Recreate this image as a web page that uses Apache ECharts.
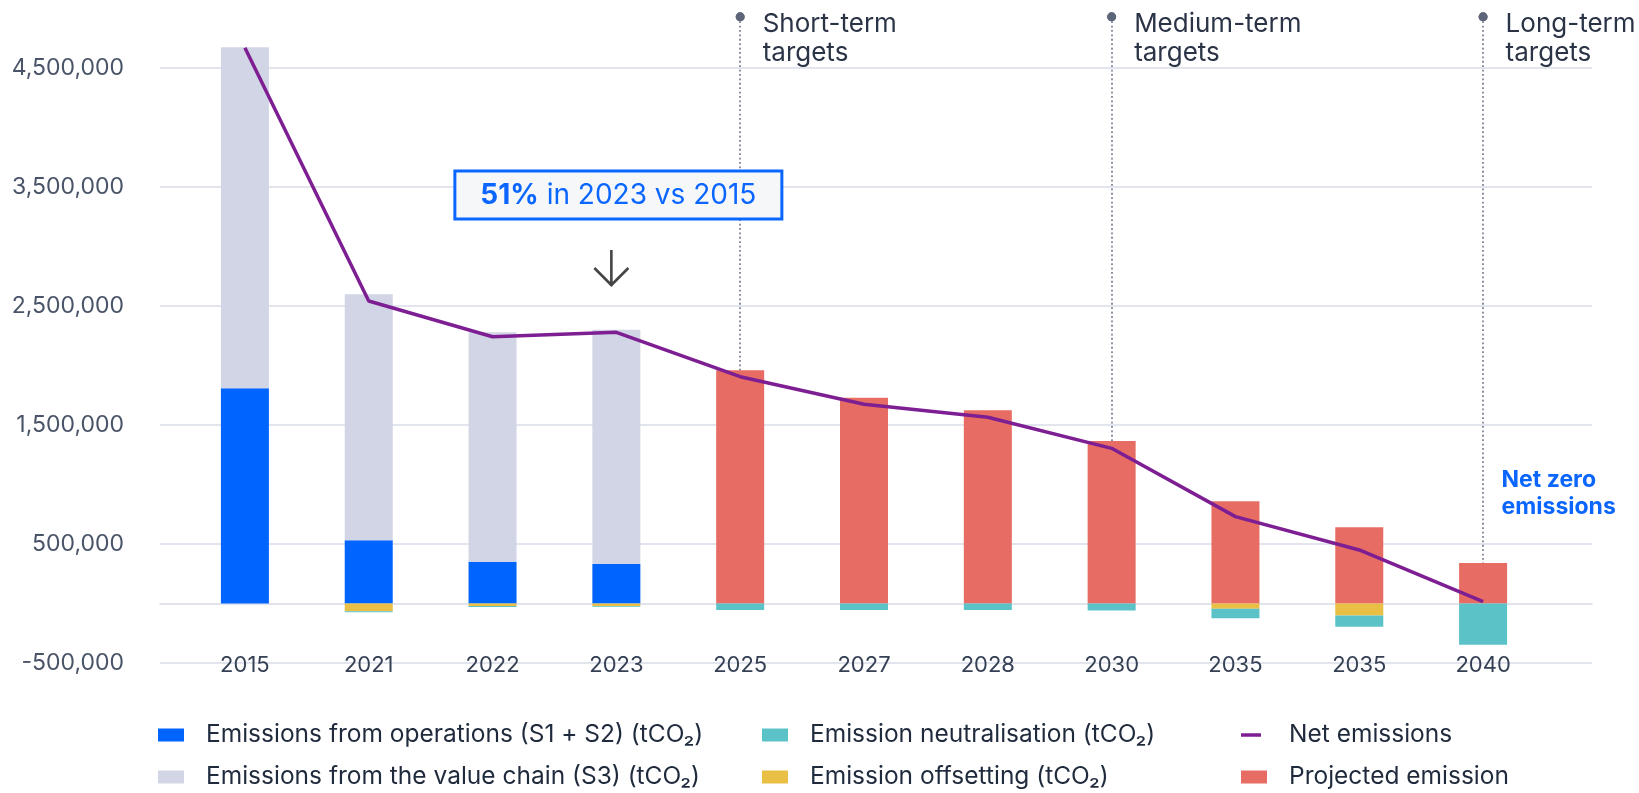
<!DOCTYPE html>
<html>
<head>
<meta charset="utf-8">
<title>Emissions trajectory</title>
<script src="https://cdn.jsdelivr.net/npm/echarts@6/dist/echarts.min.js"></script>
<style>
  html, body { margin: 0; padding: 0; background: #fff; }
  #chart { width: 1639px; height: 793px; }
</style>
</head>
<body>
<div id="chart"></div>
<script>
// values (tCO2)
const categories = ['2015', '2021', '2022', '2023', '2025', '2027', '2028', '2030', '2035', '2035', '2040'];
const operations = [1808000, 531000, 351000, 332000, null, null, null, null, null, null, null];
const valueChain = [2866000, 2067000, 1928000, 1969000, null, null, null, null, null, null, null];
const projected = [null, null, null, null, 1960000, 1730000, 1624000, 1366000, 859000, 640000, 340000];
const offsetting = [null, -65000, -22000, -20000, null, null, null, null, -45000, -100000, null];
const neutralisation = [null, -8000, -8000, -8000, -55000, -55000, -55000, -58000, -78000, -95000, -347000];
const netEmissions = [4670000, 2542000, 2242000, 2279000, 1906000, 1674000, 1565000, 1304000, 730000, 450000, 15000];

// target markers: category, label
const targets = [
  ['2025', 'Short-term\ntargets'],
  ['2030', 'Medium-term\ntargets'],
  ['2040', 'Long-term\ntargets']
];
const targetTop = 4930000;

const FONT = 'Inter';
const names = {
  ops: 'Emissions from operations (S1 + S2) (tCO₂)',
  s3: 'Emissions from the value chain (S3) (tCO₂)',
  neu: 'Emission neutralisation (tCO₂)',
  off: 'Emission offsetting (tCO₂)',
  net: 'Net emissions',
  proj: 'Projected emission'
};

const yRange = { min: -500000, max: 5000000, interval: 1000000 };

function barTop(cat) {
  return projected[categories.indexOf(cat)];
}

const legendBase = {
  orient: 'vertical',
  top: 722,
  padding: 0,
  itemWidth: 26,
  itemHeight: 13,
  itemGap: 16,
  selectedMode: false,
  textStyle: {
    fontFamily: FONT,
    fontSize: 24.5,
    lineHeight: 26,
    color: '#1f2a3d',
    padding: [0, 0, 0, 17]
  }
};

const option = {
  backgroundColor: '#fff',
  animation: false,
  textStyle: { fontFamily: FONT },
  grid: [
    { left: 160, right: 47, top: 8.5, bottom: 130 },
    { left: 183, right: 94, top: 8.5, bottom: 130 }
  ],
  legend: [
    Object.assign({}, legendBase, {
      left: 158,
      data: [{ name: names.ops, icon: 'rect' }, { name: names.s3, icon: 'rect' }]
    }),
    Object.assign({}, legendBase, {
      left: 762,
      data: [{ name: names.neu, icon: 'rect' }, { name: names.off, icon: 'rect' }]
    }),
    // net emissions gets its own legend so the icon can be a thin line
    Object.assign({}, legendBase, {
      left: 1241,
      itemWidth: 20,
      itemHeight: 3.5,
      textStyle: Object.assign({}, legendBase.textStyle, { padding: [0, 0, 0, 23] }),
      data: [{ name: names.net, icon: 'rect' }]
    }),
    Object.assign({}, legendBase, {
      left: 1241,
      top: 764,
      data: [{ name: names.proj, icon: 'rect' }]
    })
  ],
  xAxis: [
    {
      // background axis, only used for the zero line
      gridIndex: 0,
      type: 'value',
      min: 0,
      max: 1,
      axisLabel: { show: false },
      axisTick: { show: false },
      splitLine: { show: false },
      axisLine: { show: true, onZero: true, lineStyle: { color: '#d9dce8', width: 1.5 } }
    },
    {
      gridIndex: 1,
      type: 'category',
      data: categories,
      axisLine: { show: false },
      axisTick: { show: false },
      axisLabel: {
        margin: -9,
        fontFamily: FONT,
        fontSize: 22,
        color: '#364055'
      }
    }
  ],
  yAxis: [
    Object.assign({
      gridIndex: 0,
      type: 'value',
      axisLine: { show: false },
      axisTick: { show: false },
      axisLabel: {
        margin: 36,
        fontFamily: FONT,
        fontSize: 23,
        color: '#4a5468',
        showMaxLabel: false,
        formatter: (v) => v.toLocaleString('en-US')
      },
      splitLine: {
        showMaxLine: false,
        lineStyle: { color: '#d9dce8', width: 1.5 }
      }
    }, yRange),
    Object.assign({
      gridIndex: 1,
      type: 'value',
      show: false,
      splitLine: { show: false }
    }, yRange)
  ],
  series: [
    {
      name: names.ops,
      type: 'bar',
      xAxisIndex: 1,
      yAxisIndex: 1,
      stack: 'total',
      barWidth: 48,
      itemStyle: { color: '#0064ff' },
      data: operations
    },
    {
      name: names.s3,
      type: 'bar',
      xAxisIndex: 1,
      yAxisIndex: 1,
      stack: 'total',
      barWidth: 48,
      itemStyle: { color: '#d2d5e5' },
      data: valueChain
    },
    {
      name: names.proj,
      type: 'bar',
      xAxisIndex: 1,
      yAxisIndex: 1,
      stack: 'total',
      barWidth: 48,
      itemStyle: { color: '#e76c63' },
      data: projected
    },
    {
      name: names.off,
      type: 'bar',
      xAxisIndex: 1,
      yAxisIndex: 1,
      stack: 'total',
      barWidth: 48,
      itemStyle: { color: '#e9bf45' },
      data: offsetting
    },
    {
      name: names.neu,
      type: 'bar',
      xAxisIndex: 1,
      yAxisIndex: 1,
      stack: 'total',
      barWidth: 48,
      itemStyle: { color: '#5bc2c8' },
      data: neutralisation
    },
    {
      name: names.net,
      type: 'line',
      xAxisIndex: 1,
      yAxisIndex: 1,
      clip: false,
      symbol: 'none',
      z: 5,
      lineStyle: { color: '#7e1e93', width: 3.5 },
      itemStyle: { color: '#7e1e93' },
      data: netEmissions,
      markLine: {
        silent: true,
        symbol: ['circle', 'none'],
        symbolSize: 9,
        label: { show: false },
        lineStyle: { color: '#6b7286', width: 1.6, type: [1.8, 2.6] },
        itemStyle: { color: '#5d6578' },
        data: targets.map(([cat]) => [
          { coord: [cat, targetTop] },
          { coord: [cat, barTop(cat)] }
        ])
      },
      markPoint: {
        silent: true,
        data: targets.map(([cat, text]) => ({
          coord: [cat, targetTop],
          symbol: 'circle',
          symbolSize: 9,
          itemStyle: { color: '#5d6578' },
          label: {
            show: true,
            formatter: text,
            position: 'right',
            distance: 18,
            offset: [0, 22],
            align: 'left',
            fontFamily: FONT,
            fontSize: 26,
            lineHeight: 29,
            color: '#2b3447'
          }
        })).concat([
          {
            // "51% in 2023 vs 2015" callout
            coord: ['2023', 3433000],
            symbol: 'rect',
            symbolSize: 1,
            symbolOffset: [2, 0],
            itemStyle: { color: 'rgba(0,0,0,0)' },
            label: {
              show: true,
              position: 'inside',
              formatter: '{b|51%} in 2023 vs 2015',
              fontFamily: FONT,
              fontSize: 28,
              color: '#0a66ff',
              backgroundColor: '#f6f7f9',
              borderColor: '#0a66ff',
              borderWidth: 3,
              padding: [9, 24, 8, 24],
              rich: {
                b: { fontFamily: FONT, fontSize: 28, fontWeight: 'bold', color: '#0a66ff' }
              }
            }
          },
          {
            // down arrow under the callout
            coord: ['2023', 2819000],
            symbol: 'path://M18,0 L18,36 M1,18 L18,35 L35,18',
            symbolSize: [36, 36],
            symbolOffset: [-5, 0],
            symbolKeepAspect: true,
            itemStyle: { color: 'rgba(0,0,0,0)', borderColor: '#454545', borderWidth: 2.6 },
            label: { show: false }
          },
          {
            coord: ['2040', 925000],
            symbol: 'rect',
            symbolSize: 1,
            itemStyle: { color: 'rgba(0,0,0,0)' },
            label: {
              show: true,
              formatter: 'Net zero\nemissions',
              position: 'right',
              distance: 18,
              align: 'left',
              fontFamily: FONT,
              fontSize: 23,
              fontWeight: 'bold',
              lineHeight: 27,
              color: '#0a66ff'
            }
          }
        ])
      }
    }
  ]
};

const chart = echarts.init(document.getElementById('chart'));
chart.setOption(option);
</script>
</body>
</html>
